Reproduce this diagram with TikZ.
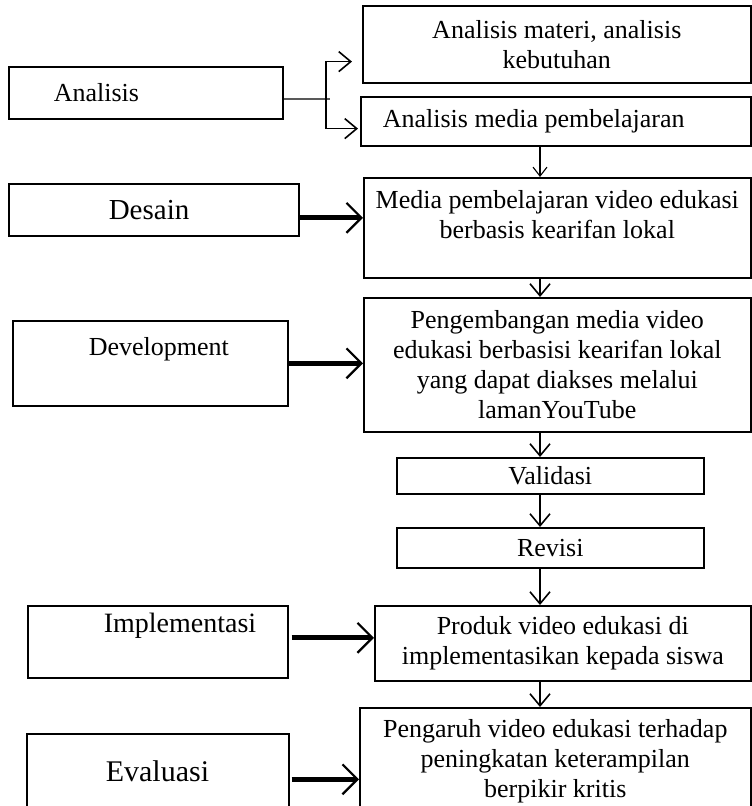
\documentclass[tikz,border=0pt]{standalone}
\usepackage{fontspec}
\setmainfont{Liberation Serif}
\usetikzlibrary{arrows.meta, positioning, calc}

\tikzset{
  box/.style={draw, line width=1.6pt, inner sep=0pt, anchor=north west, font=\fontsize{26}{30}\selectfont},
  link/.style={line width=1.6pt, -{Straight Barb[length=12pt,width=20pt,line width=1.6pt]}},
  thinlink/.style={line width=1.1pt, -{Straight Barb[length=9pt,width=14pt,line width=1.1pt]}},
  biglink/.style={line width=5pt, -{Straight Barb[length=15pt,width=30pt,line width=2.2pt]}},
  stub/.style={draw=black!65, line width=1.5pt},
}

\begin{document}
\begin{tikzpicture}[x=1pt,y=-1pt]
  \useasboundingbox (0,0) rectangle (752,806);
  \clip (0,0) rectangle (752,806);

  % left column
  \node[box] (ana) at (8,66) {\parbox[c][52pt][c]{274pt}{\hspace*{45pt}Analisis}};
  \node[box] (desain) at (8,183) {\parbox[c][52pt][c]{290pt}{\fontsize{29}{34}\selectfont\hspace*{100pt}Desain}};
  \node[box] (devl) at (12,320) {\parbox[c][85pt][t]{275pt}{\vspace*{17pt}\hspace*{76pt}Development}};
  \node[box] (impl) at (27,605) {\parbox[c][72pt][t]{260pt}{\fontsize{28}{33}\selectfont\vspace*{7pt}\hspace*{76pt}Implementasi}};
  \node[box] (evalu) at (26,733) {\parbox[c][97pt][t]{262pt}{\fontsize{30}{36}\selectfont\vspace*{27pt}\hspace*{79pt}Evaluasi}};

  % right column
  \node[box] (a1) at (362,5) {\parbox[c][77pt][c]{388pt}{\centering Analisis materi, analisis\\kebutuhan}};
  \node[box] (a2) at (360,96) {\parbox[c][49pt][c]{390pt}{\hspace*{22pt}Analisis media pembelajaran}};
  \node[box] (media) at (363,177) {\parbox[c][100pt][t]{387pt}{\vspace*{13pt}\centering Media pembelajaran video edukasi\\berbasis kearifan lokal}};
  \node[box] (devr) at (363,297) {\parbox[c][134pt][c]{387pt}{\centering Pengembangan media video\\edukasi berbasisi kearifan lokal\\yang dapat diakses melalui\\lamanYouTube}};
  \node[box] (valid) at (396,457) {\parbox[c][36pt][c]{307pt}{\centering Validasi}};
  \node[box] (revisi) at (396,527) {\parbox[c][40pt][c]{307pt}{\centering Revisi}};
  \node[box] (produk) at (374,605) {\parbox[c][75pt][c]{376pt}{\centering Produk video edukasi di\\implementasikan kepada siswa}};
  \node[box] (pengaruh) at (359,707) {\parbox[c][123pt][t]{391pt}{\vspace*{12pt}\centering Pengaruh video edukasi terhadap\\peningkatan keterampilan\\berpikir kritis}};

  % analisis fork
  \coordinate (fork) at (326,99);
  \draw[stub] (ana.east |- fork) -- ($(fork)+(4,0)$);
  \draw[link] (fork) |- ($(a1.south west)+(-10,-22)$);
  \draw[link] (fork) |- ($(a2.south west)+(-2,-18)$);

  % main flow
  \coordinate (spine) at (540,0);
  \draw[thinlink] (a2.south -| spine) -- (media.north -| spine);
  \draw[link] (media.south -| spine) -- (devr.north -| spine);
  \draw[link] (devr.south -| spine) -- (valid.north -| spine);
  \draw[link] (valid.south -| spine) -- (revisi.north -| spine);
  \draw[link] (revisi.south -| spine) -- (produk.north -| spine);
  \draw[link] (produk.south -| spine) -- (pengaruh.north -| spine);

  % phases
  \draw[biglink] ([yshift=-8pt]desain.east) -- ([yshift=-8pt]desain.east -| media.west);
  \draw[biglink] (devl.east) -- (devl.east -| devr.west);
  \draw[biglink] ([yshift=4pt,xshift=3pt]impl.east) -- ([yshift=4pt]impl.east -| produk.west);
  \draw[biglink] ([yshift=3pt,xshift=2pt]evalu.east) -- ([yshift=3pt]evalu.east -| pengaruh.west);
\end{tikzpicture}
\end{document}
